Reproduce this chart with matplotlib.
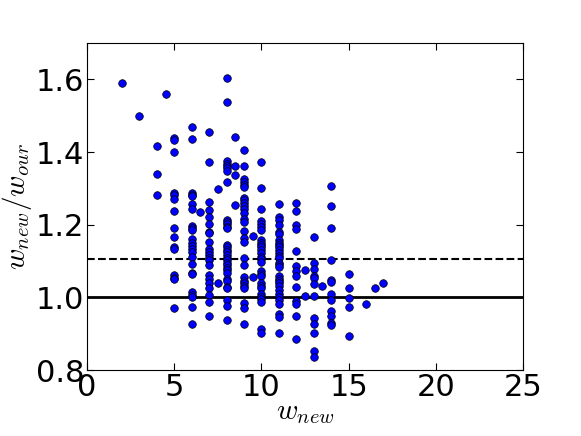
import numpy as np
import matplotlib
matplotlib.use("Agg")
import matplotlib.pyplot as plt

# Data: each x value with its list of ratios
x_vals = [2, 3, 4.5, 4, 5, 6, 6.5, 7, 7.5, 8, 8.5, 9, 9.5, 10, 11, 12, 12.5, 13, 13.5, 14, 15, 16, 16.5, 17]
y_groups = [
    [1.591],
    [1.499],
    [1.559],
    [1.416, 1.340, 1.281],
    [1.439, 1.433, 1.400, 1.288, 1.283, 1.271, 1.237, 1.191, 1.166, 1.138, 1.133,
     1.062, 1.055, 1.051, 0.971],
    [1.470, 1.436, 1.287, 1.283, 1.278, 1.257, 1.243, 1.197, 1.191, 1.186, 1.161,
     1.149, 1.142, 1.133, 1.126, 1.112, 1.092, 1.068, 1.064, 1.014, 1.006, 1.002,
     0.974, 0.928],
    [1.235],
    [1.455, 1.373, 1.264, 1.241, 1.221, 1.202, 1.181, 1.177, 1.152, 1.133, 1.124,
     1.117, 1.110, 1.103, 1.089, 1.061, 1.050, 1.041, 1.025, 1.006, 0.988, 0.950],
    [1.298, 1.041],
    [1.603, 1.539, 1.375, 1.368, 1.363, 1.356, 1.347, 1.318, 1.214, 1.207, 1.202,
     1.195, 1.191, 1.145, 1.138, 1.131, 1.124, 1.117, 1.110, 1.103, 1.096, 1.089,
     1.082, 1.075, 1.068, 1.052, 1.046, 1.029, 1.025, 0.993, 0.976, 0.937],
    [1.442, 1.363, 1.338, 1.255],
    [1.407, 1.361, 1.326, 1.318, 1.310, 1.304, 1.273, 1.267, 1.260, 1.253, 1.243,
     1.232, 1.215, 1.209, 1.184, 1.163, 1.154, 1.110, 1.089, 1.057, 1.045, 1.039,
     1.031, 1.025, 0.985, 0.970, 0.926],
    [1.169, 1.057],
    [1.374, 1.300, 1.244, 1.211, 1.202, 1.193, 1.186, 1.158, 1.151, 1.145, 1.138,
     1.131, 1.123, 1.112, 1.106, 1.099, 1.074, 1.066, 1.059, 1.039, 1.031, 1.025,
     1.009, 1.002, 0.995, 0.988, 0.914, 0.901],
    [1.256, 1.221, 1.214, 1.199, 1.181, 1.175, 1.158, 1.151, 1.145, 1.138, 1.131,
     1.123, 1.114, 1.108, 1.096, 1.089, 1.083, 1.059, 1.052, 1.046, 1.039, 1.031,
     1.020, 1.009, 1.002, 0.994, 0.983, 0.954, 0.945, 0.903],
    [1.259, 1.239, 1.200, 1.188, 1.128, 1.087, 1.074, 1.059, 1.029, 0.991, 0.981,
     0.948, 0.886],
    [1.077, 1.004],
    [1.167, 1.096, 1.078, 1.059, 1.053, 1.038, 1.004, 0.943, 0.927, 0.901, 0.852,
     0.836],
    [1.033],
    [1.308, 1.252, 1.191, 1.103, 1.048, 1.043, 1.009, 0.994, 0.963, 0.949, 0.930,
     0.924],
    [1.064, 1.025, 0.999, 0.975, 0.894],
    [0.981],
    [1.025],
    [1.040],
]
ref_level = 1.0
mean_level = 1.106

xs = np.concatenate([[x] * len(g) for x, g in zip(x_vals, y_groups)])
ys = np.concatenate(y_groups)

plt.rcParams["mathtext.fontset"] = "cm"

fig = plt.figure(figsize=(5.81, 4.36), dpi=100)
ax = fig.add_axes([0.150, 0.151, 0.750, 0.750])

ax.scatter(xs, ys, s=30, c="blue", edgecolors="black", linewidths=0.5, zorder=3)
ax.axhline(ref_level, color="black", linewidth=2)
ax.axhline(mean_level, color="black", linewidth=1.5, linestyle="--")

ax.set_xlim(0, 25)
ax.set_ylim(0.8, 1.7)
ax.set_xticks([0, 5, 10, 15, 20, 25])
ax.set_yticks([0.8, 1.0, 1.2, 1.4, 1.6])
ax.tick_params(direction="in", top=True, right=True, labelsize=22, length=5, pad=2)
ax.set_xlabel(r"$w_{new}$", fontsize=21, labelpad=-3)
ax.set_ylabel(r"$w_{new}/w_{our}$", fontsize=21, labelpad=1)

fig.savefig("out.png", dpi=100)
